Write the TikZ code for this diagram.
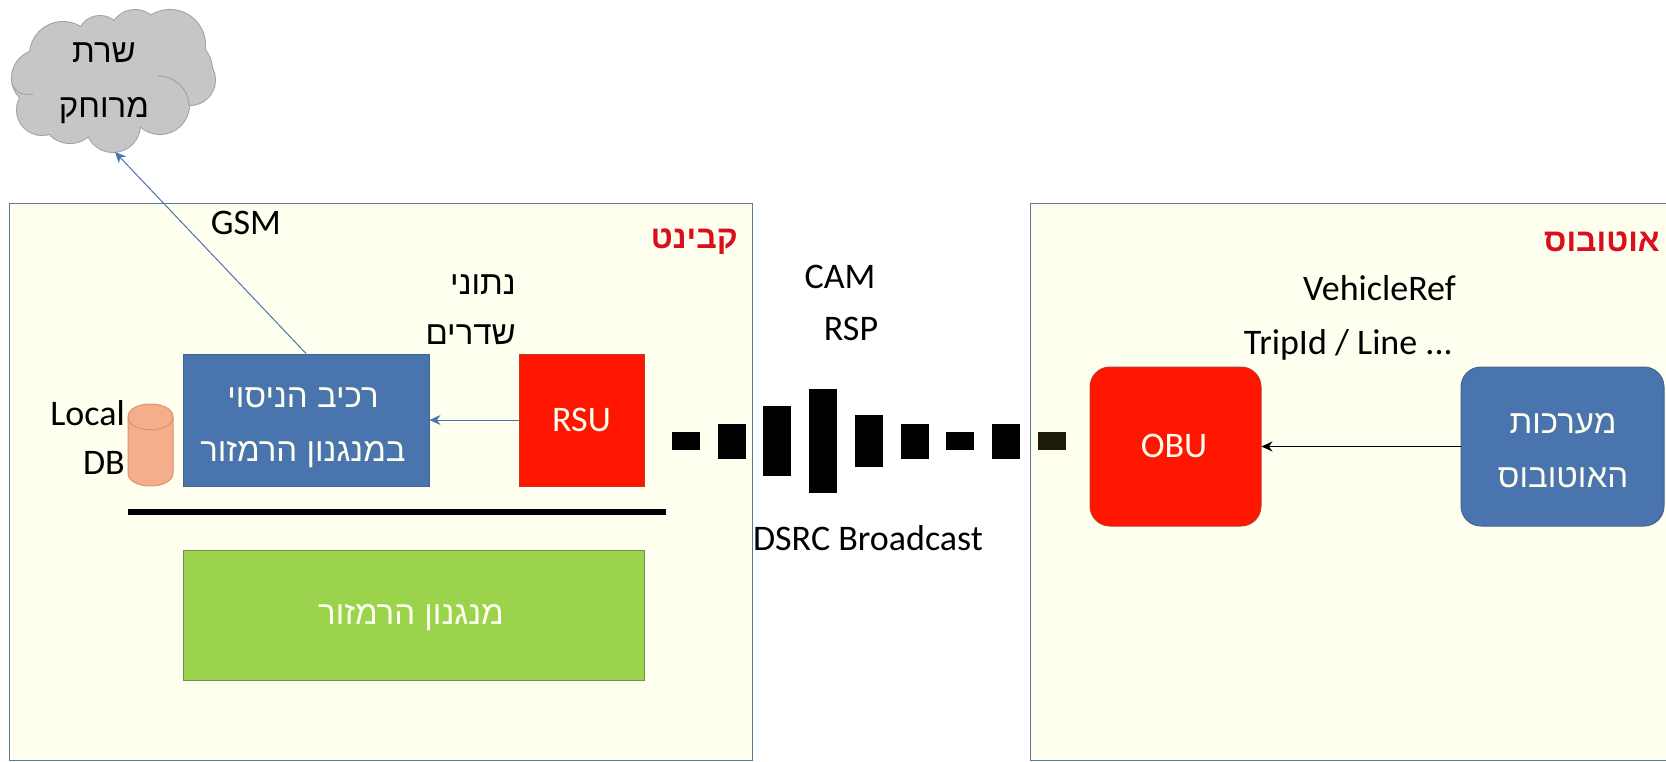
\documentclass[tikz,border=0pt]{standalone}
\usepackage{fontspec}
\usetikzlibrary{arrows.meta}
\setmainfont{Carlito}
\newfontfamily\hebfont[Script=Hebrew]{Liberation Sans}
\TeXXeTstate=1
\definecolor{cream}{HTML}{FFFFF0}
\definecolor{boxline}{HTML}{5A7A96}
\definecolor{pptblue}{HTML}{4A74AE}
\definecolor{pptblueline}{HTML}{41658F}
\definecolor{pptred}{HTML}{FF1500}
\definecolor{pptredline}{HTML}{C0392B}
\definecolor{pptgreen}{HTML}{9BD34C}
\definecolor{pptgreenline}{HTML}{6F8F55}
\definecolor{dbfill}{HTML}{F4AE8C}
\definecolor{dbline}{HTML}{E2906A}
\definecolor{cloudfill}{HTML}{C6C6C6}
\definecolor{cloudline}{HTML}{A2A2A2}
\definecolor{labred}{HTML}{D8101E}
\definecolor{olive}{HTML}{1E1A08}
\newcommand{\heb}[1]{{\hebfont\beginR #1\endR}}
\newcommand{\cloudshape}{%
  (63,55) circle[radius=33] (100,38) circle[radius=22] (135,35) circle[radius=25]
  (170,45) circle[radius=35] (180,70) circle[radius=32] (190,80) circle[radius=25]
  (40,78) circle[radius=28] (42,110) circle[radius=25] (70,115) circle[radius=28]
  (113,125) circle[radius=27] (160,105) circle[radius=29]}
\tikzset{
  x=1pt,y=-1pt,
  panel/.style={draw=boxline,line width=1pt,fill=cream,inner sep=0pt,minimum height=557pt},
  block/.style={inner sep=0pt,line width=1pt},
  blocktext/.style={inner sep=0pt,text=cream,align=center,font=\fontsize{33}{54}\selectfont},
  bar/.style={fill=black,inner sep=0pt,minimum width=28pt},
  lbl/.style={inner sep=0pt,text=black,font=\fontsize{36}{40}\selectfont},
  latinwhite/.style={inner sep=0pt,text=cream,font=\fontsize{36}{40}\selectfont},
  heblbl/.style={inner sep=0pt,text=black,align=center,font=\fontsize{33}{55}\selectfont},
  redlbl/.style={inner sep=0pt,text=labred,font=\fontsize{32}{36}\selectfont\bfseries},
  blueconn/.style={draw=pptblue,line width=1pt,-{Stealth[length=11pt,width=10pt]}},
  blackconn/.style={draw=black,line width=1pt,-{Stealth[length=11pt,width=10pt]}},
}
\begin{document}
\begin{tikzpicture}
\useasboundingbox[fill=white] (0,0) rectangle (1666,761);
% panels
\node[panel,minimum width=743pt] (cabinet) at (380.5,481.5) {};
\node[panel,minimum width=640pt] (bus) at (1350,481.5) {};
% cloud
\draw[draw=cloudline,line width=2pt] \cloudshape;
\fill[cloudfill] \cloudshape;
\fill[cloudfill] (110,75) circle[radius=42];
\draw[draw=cloudline,line width=1pt] (189,105) .. controls (189,90) and (175,76) .. (158,76);
\draw[draw=cloudline,line width=1pt] (12,84) .. controls (16,94) and (24,95) .. (33,94);
\node[heblbl] (server) at (104,83) {\heb{שרת}\\\heb{מרוחק}};
\coordinate (cloudtip) at (115,152);
% cabinet contents
\node[block,draw=pptblueline,fill=pptblue,minimum width=246pt,minimum height=132pt] (test) at (306,420) {};
\node[blocktext] (testtext) at (303,428) {\heb{רכיב הניסוי}\\\heb{במנגנון הרמזור}};
\node[block,draw=pptredline,fill=pptred,minimum width=125pt,minimum height=132pt] (rsu) at (581.5,420) {};
\node[latinwhite] (rsutext) at (581.5,420) {RSU};
\node[fill=black,inner sep=0pt,minimum width=538pt,minimum height=6pt] (rule) at (397,512) {};
\node[block,draw=pptgreenline,fill=pptgreen,minimum width=461pt,minimum height=130pt] (mech) at (413.5,615) {};
\node[blocktext] (mechtext) at (411,618) {\heb{מנגנון הרמזור}};
\draw[draw=dbline,line width=1pt,fill=dbfill]
  (128,417) -- (128,473) .. controls (128,490.3) and (173,490.3) .. (173,473)
  -- (173,417) .. controls (173,399.7) and (128,399.7) .. (128,417) -- cycle;
\draw[draw=dbline,line width=1pt] (128,417) .. controls (128,434) and (173,434) .. (173,417);
\node[lbl,anchor=east] (local) at (125,413) {Local};
\node[lbl,anchor=east] (dblbl) at (125,463) {DB};
\node[lbl] (gsm) at (246,223) {GSM};
\node[heblbl,anchor=east] (data1) at (516,285) {\heb{נתוני}};
\node[heblbl,anchor=east] (data2) at (516,335) {\heb{שדרים}};
\node[redlbl,anchor=east] (cablbl) at (738,242) {\heb{קבינט}};
% middle
\node[lbl] (cam) at (840,277) {CAM};
\node[lbl] (rsp) at (851,329) {RSP};
\node[lbl] (dsrc) at (868,538) {DSRC Broadcast};
\node[bar,minimum height=18pt] (b1) at (686,441) {};
\node[bar,minimum height=35pt] (b2) at (732,441) {};
\node[bar,minimum height=70pt] (b3) at (777,441) {};
\node[bar,minimum height=104pt] (b4) at (823,441) {};
\node[bar,minimum height=52pt] (b5) at (869,441) {};
\node[bar,minimum height=35pt] (b6) at (915,441) {};
\node[bar,minimum height=18pt] (b7) at (960,441) {};
\node[bar,minimum height=35pt] (b8) at (1006,441) {};
\node[bar,minimum height=18pt,fill=olive] (b9) at (1052,441) {};
% bus contents
\node[block,draw=pptredline,fill=pptred,rounded corners=20pt,minimum width=171pt,minimum height=159pt] (obu) at (1175.5,446.5) {};
\node[latinwhite] (obutext) at (1174,446) {OBU};
\node[block,draw=pptblueline,fill=pptblue,rounded corners=20pt,minimum width=203pt,minimum height=159pt] (sys) at (1562.5,446.5) {};
\node[blocktext] (systext) at (1563,451) {\heb{מערכות}\\\heb{האוטובוס}};
\node[redlbl,anchor=east] (buslbl) at (1660,242) {\heb{אוטובוס}};
\node[lbl,anchor=east] (veh) at (1456,288) {VehicleRef};
\node[lbl,anchor=east] (trip) at (1453,345) {TripId / Line ...};
% connectors
\draw[blueconn] (test.north) -- (cloudtip);
\draw[blueconn] (rsu.west) -- (test.east);
\draw[blackconn] (sys.west) -- (obu.east);
\end{tikzpicture}
\end{document}
